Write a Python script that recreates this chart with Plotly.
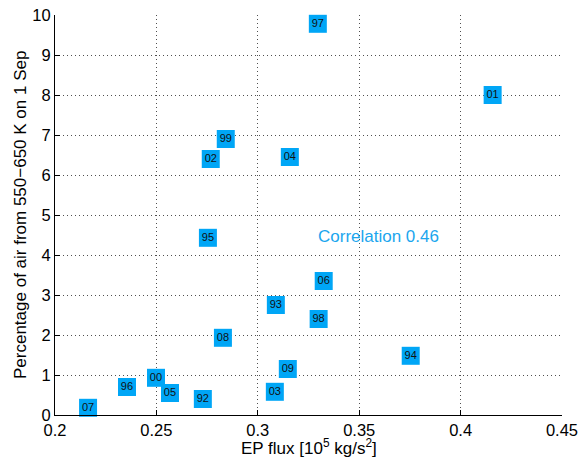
import plotly.graph_objects as go

years = ["97", "01", "99", "02", "04", "95", "06", "93", "98", "08",
         "94", "09", "00", "96", "05", "03", "92", "07"]
ep_flux = [0.3296, 0.4158, 0.2842, 0.2768, 0.3158, 0.2754, 0.3325, 0.3089, 0.3300, 0.2828,
           0.3754, 0.3148, 0.2498, 0.2355, 0.2567, 0.3084, 0.2729, 0.2163]
percent_air = [9.78, 8.0, 6.9, 6.4, 6.45, 4.43, 3.35, 2.75, 2.4, 1.93,
               1.48, 1.15, 0.93, 0.7, 0.55, 0.58, 0.4, 0.18]

x_ticks = [0.2, 0.25, 0.3, 0.35, 0.4, 0.45]
x_tick_labels = ["0.2", "0.25", "0.3", "0.35", "0.4", "0.45"]
y_ticks = list(range(0, 11))

x_title = "EP flux [10<sup>5</sup> kg/s<sup>2</sup>]"
y_title = "Percentage of air from 550\u2212650 K on 1 Sep"

blue = "#00A6F6"
font_family = "Liberation Sans, Arial, sans-serif"

fig = go.Figure()
fig.add_trace(go.Scatter(
    x=ep_flux, y=percent_air, mode="markers+text", text=years,
    textposition="middle center",
    textfont=dict(family=font_family, size=11, color="#111111"),
    marker=dict(symbol="square", size=18, color=blue, line=dict(width=0)),
    cliponaxis=False, showlegend=False, hoverinfo="skip",
))

fig.add_annotation(
    x=0.3596, y=4.47, text="Correlation 0.46", showarrow=False,
    font=dict(family=font_family, size=17, color="#1BA6EE"),
    xanchor="center", yanchor="middle",
)
fig.add_annotation(
    x=0.5, y=0, xref="paper", yref="paper", text=x_title, showarrow=False,
    font=dict(family=font_family, size=17, color="black"),
    xanchor="center", yanchor="middle", yshift=-32,
)
fig.add_annotation(
    x=0, y=0.5, xref="paper", yref="paper", text=y_title, showarrow=False,
    font=dict(family=font_family, size=17, color="black"), textangle=-90,
    xanchor="center", yanchor="middle", xshift=-35,
)

axis_common = dict(
    showline=True, linecolor="black", linewidth=1,
    ticks="inside", ticklen=5, tickcolor="black", tickwidth=1,
    showgrid=True, gridcolor="#505050", griddash="1px,3px", gridwidth=1,
    zeroline=False, mirror=False, automargin=False,
    tickfont=dict(family=font_family, size=16.5, color="black"),
)

fig.update_xaxes(range=[0.2, 0.45], tickvals=x_ticks, ticktext=x_tick_labels, **axis_common)
fig.update_yaxes(range=[0, 10], tickvals=y_ticks, **axis_common)

fig.update_layout(
    width=582, height=463,
    margin=dict(l=55, r=20, t=15, b=48),
    paper_bgcolor="white", plot_bgcolor="white",
    font=dict(family=font_family),
)

# remove the default 8px page margin so the figure fills the window exactly
fig.write_html("out.html", config={"displayModeBar": False},
               post_script="document.body.style.margin='0';")
